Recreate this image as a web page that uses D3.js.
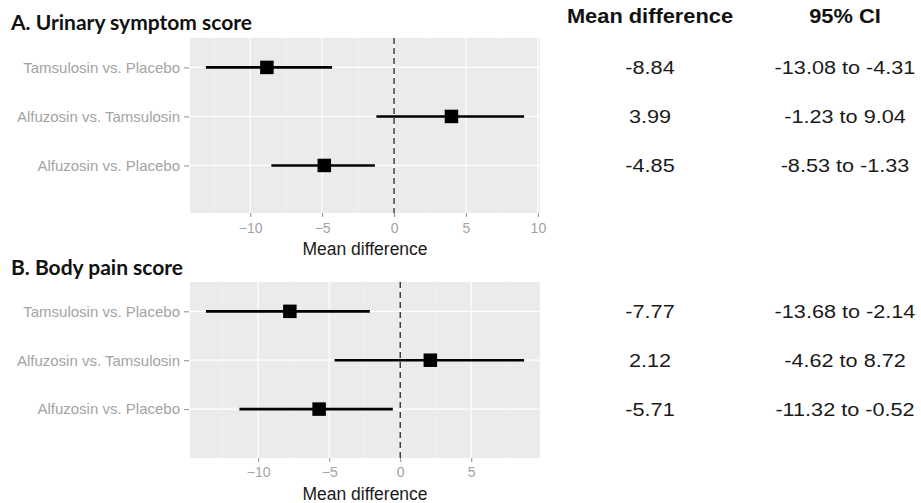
<!DOCTYPE html>
<html>
<head>
<meta charset="utf-8">
<script src="https://cdn.jsdelivr.net/npm/d3@7"></script>
<style>
  html, body { margin: 0; padding: 0; background: #ffffff; }
  svg { display: block; }
</style>
</head>
<body>
<svg id="chart" width="921" height="503"></svg>
<script>
// ---------------- DATA ----------------
const categories = ["Tamsulosin vs. Placebo", "Alfuzosin vs. Tamsulosin", "Alfuzosin vs. Placebo"];

const urinaryMean = [-8.84, 3.99, -4.85];
const urinaryLow  = [-13.08, -1.23, -8.53];
const urinaryHigh = [-4.31, 9.04, -1.33];

const painMean = [-7.77, 2.12, -5.71];
const painLow  = [-13.68, -4.62, -11.32];
const painHigh = [-2.14, 8.72, -0.52];

const urinaryTicks = [-10, -5, 0, 5, 10];
const painTicks    = [-10, -5, 0, 5];

const urinaryMeanText = ["-8.84", "3.99", "-4.85"];
const urinaryCIText   = ["-13.08 to -4.31", "-1.23 to 9.04", "-8.53 to -1.33"];
const painMeanText    = ["-7.77", "2.12", "-5.71"];
const painCIText      = ["-13.68 to -2.14", "-4.62 to 8.72", "-11.32 to -0.52"];

const panelTitles = ["A. Urinary symptom score", "B. Body pain score"];
const tableHeaders = ["Mean difference", "95% CI"];
const axisTitle = "Mean difference";

// ---------------- DRAW ----------------
const svg = d3.select("#chart");
const labelGrey = "#a3a3a3";
const tickGrey = "#8c8c8c";

function drawPanel(cfg) {
  const { top, bottom, mean, low, high, ticks, title, titleY, yDomain, meanText, ciText, tickLabelY, axisTitleY } = cfg;
  const left = 190, right = 540;
  const lo = d3.min(low), hi = d3.max(high);
  const pad = (hi - lo) * 0.05;
  const x = d3.scaleLinear().domain([lo - pad, hi + pad]).range([left, right]);
  const y = d3.scaleLinear().domain(yDomain).range([top, bottom]);

  const g = svg.append("g");

  // panel title
  svg.append("text")
    .attr("x", 11).attr("y", titleY)
    .attr("font-family", "Lato, 'Open Sans', sans-serif")
    .attr("font-weight", 700)
    .attr("font-size", 21)
    .attr("fill", "#111")
    .text(title);

  // background
  g.append("rect")
    .attr("x", left).attr("y", top)
    .attr("width", right - left).attr("height", bottom - top)
    .attr("fill", "#ebebeb");

  // minor gridlines
  const minor = ticks.slice(0, -1).map((t, i) => (t + ticks[i + 1]) / 2);
  minor.unshift(ticks[0] - 2.5);
  minor.push(ticks[ticks.length - 1] + 2.5);
  g.selectAll(".minor").data(minor.filter(v => x(v) > left && x(v) < right)).enter()
    .append("line")
    .attr("x1", d => x(d)).attr("x2", d => x(d))
    .attr("y1", top).attr("y2", bottom)
    .attr("stroke", "#f5f5f5").attr("stroke-width", 0.6);

  // major gridlines vertical
  g.selectAll(".majorx").data(ticks).enter()
    .append("line")
    .attr("x1", d => x(d)).attr("x2", d => x(d))
    .attr("y1", top).attr("y2", bottom)
    .attr("stroke", "#ffffff").attr("stroke-width", 1.2);

  // major gridlines horizontal
  g.selectAll(".majory").data(categories).enter()
    .append("line")
    .attr("x1", left).attr("x2", right)
    .attr("y1", (d, i) => y(i)).attr("y2", (d, i) => y(i))
    .attr("stroke", "#ffffff").attr("stroke-width", 1.2);

  // x axis
  const xAxis = d3.axisBottom(x).tickValues(ticks).tickSize(4).tickPadding(4)
    .tickFormat(d => d < 0 ? "\u2212" + Math.abs(d) : String(d));
  const ax = g.append("g").attr("transform", `translate(0,${bottom})`).call(xAxis);
  ax.select(".domain").remove();
  ax.selectAll(".tick line").attr("stroke", tickGrey).attr("stroke-width", 1);
  ax.selectAll(".tick text")
    .attr("fill", labelGrey)
    .attr("font-family", "'Liberation Sans', Arial, sans-serif")
    .attr("font-size", 14)
    .attr("y", null).attr("dy", null)
    .attr("y", tickLabelY - bottom)
    .attr("dominant-baseline", "central");

  // y axis labels
  const yAxis = d3.axisLeft(y).tickValues([0, 1, 2]).tickSize(5).tickPadding(4)
    .tickFormat(i => categories[i]);
  const ay = g.append("g").attr("transform", `translate(${left - 1},0)`).call(yAxis);
  ay.select(".domain").remove();
  ay.selectAll(".tick line").attr("stroke", tickGrey).attr("stroke-width", 1);
  ay.selectAll(".tick text")
    .attr("fill", labelGrey)
    .attr("font-family", "'Liberation Sans', Arial, sans-serif")
    .attr("font-size", 15);

  // axis title
  g.append("text")
    .attr("x", (left + right) / 2).attr("y", axisTitleY)
    .attr("text-anchor", "middle")
    .attr("font-family", "'Liberation Sans', Arial, sans-serif")
    .attr("font-size", 17.5)
    .attr("fill", "#1a1a1a")
    .text(axisTitle);

  // zero reference line
  g.append("line")
    .attr("x1", x(0)).attr("x2", x(0))
    .attr("y1", top).attr("y2", bottom)
    .attr("stroke", "#222").attr("stroke-width", 1.3)
    .attr("stroke-dasharray", "6,4");

  // error bars
  g.selectAll(".ci").data(categories).enter()
    .append("line")
    .attr("x1", (d, i) => x(low[i])).attr("x2", (d, i) => x(high[i]))
    .attr("y1", (d, i) => y(i)).attr("y2", (d, i) => y(i))
    .attr("stroke", "#000").attr("stroke-width", 2.6);

  // squares
  const s = 13.5;
  g.selectAll(".pt").data(categories).enter()
    .append("rect")
    .attr("x", (d, i) => x(mean[i]) - s / 2)
    .attr("y", (d, i) => y(i) - s / 2)
    .attr("width", s).attr("height", s)
    .attr("fill", "#000");

  // table values
  const tg = svg.append("g");
  categories.forEach((c, i) => {
    tg.append("text")
      .attr("transform", `translate(650,${y(i)}) scale(1.14,1)`)
      .attr("text-anchor", "middle")
      .attr("dominant-baseline", "central")
      .attr("font-family", "'Liberation Sans', Arial, sans-serif")
      .attr("font-size", 19)
      .attr("fill", "#1a1a1a")
      .text(meanText[i]);
    tg.append("text")
      .attr("transform", `translate(845,${y(i)}) scale(1.14,1)`)
      .attr("text-anchor", "middle")
      .attr("dominant-baseline", "central")
      .attr("font-family", "'Liberation Sans', Arial, sans-serif")
      .attr("font-size", 19)
      .attr("fill", "#1a1a1a")
      .text(ciText[i]);
  });
}

drawPanel({
  top: 38, bottom: 213, yDomain: [-0.6, 2.97],
  mean: urinaryMean, low: urinaryLow, high: urinaryHigh, ticks: urinaryTicks,
  title: panelTitles[0], titleY: 30,
  meanText: urinaryMeanText, ciText: urinaryCIText,
  tickLabelY: 228, axisTitleY: 255
});

drawPanel({
  top: 282, bottom: 458, yDomain: [-0.6, 3.0],
  mean: painMean, low: painLow, high: painHigh, ticks: painTicks,
  title: panelTitles[1], titleY: 275,
  meanText: painMeanText, ciText: painCIText,
  tickLabelY: 472, axisTitleY: 500
});

// table headers
[650, 845].forEach((cx, i) => {
  svg.append("text")
    .attr("transform", `translate(${cx},23) scale(1.12,1)`)
    .attr("text-anchor", "middle")
    .attr("font-family", "'Liberation Sans', Arial, sans-serif")
    .attr("font-weight", 700)
    .attr("font-size", 19.5)
    .attr("fill", "#111")
    .text(tableHeaders[i]);
});
</script>
</body>
</html>
